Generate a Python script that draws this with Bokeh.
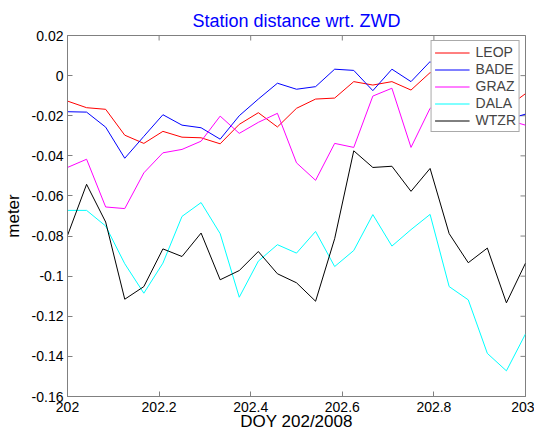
import math
from bokeh.plotting import figure
from bokeh.models import FixedTicker, Legend, LegendItem, Range1d
from bokeh.embed import file_html
from bokeh.resources import INLINE

# ---- data ----
hours = [0, 1, 2, 3, 4, 5, 6, 7, 8, 9, 10, 11, 12,
         13, 14, 15, 16, 17, 18, 19, 20, 21, 22, 23, 24]
doy = [202 + h / 24.0 for h in hours]

leop = [-0.0127, -0.0160, -0.0168, -0.0297, -0.0338, -0.0278, -0.0307, -0.0310,
        -0.0340, -0.0243, -0.0185, -0.0256, -0.0163, -0.0117, -0.0112, -0.0030,
        -0.0047, -0.0030, -0.0072, 0.0015, -0.0010, -0.0040, -0.0090, -0.0160,
        -0.0090]
bade = [-0.0180, -0.0182, -0.0257, -0.0412, -0.0303, -0.0195, -0.0247, -0.0260,
        -0.0317, -0.0200, -0.0117, -0.0038, -0.0068, -0.0055, 0.0032, 0.0026,
        -0.0075, 0.0032, -0.0030, 0.0070, -0.0030, -0.0080, -0.0140, -0.0220,
        -0.0192]
graz = [-0.0458, -0.0417, -0.0655, -0.0663, -0.0485, -0.0385, -0.0368, -0.0327,
        -0.0202, -0.0288, -0.0233, -0.0188, -0.0435, -0.0522, -0.0338, -0.0358,
        -0.0102, -0.0063, -0.0358, -0.0163, -0.0120, -0.0140, -0.0180, -0.0220,
        -0.0247]
dala = [-0.0672, -0.0672, -0.0750, -0.0938, -0.1085, -0.0935, -0.0702, -0.0633,
        -0.0788, -0.1105, -0.0925, -0.0843, -0.0885, -0.0777, -0.0952, -0.0872,
        -0.0693, -0.0850, -0.0768, -0.0692, -0.1052, -0.1118, -0.1385, -0.1472,
        -0.1288]
wtzr = [-0.0797, -0.0542, -0.0730, -0.1115, -0.1052, -0.0864, -0.0902, -0.0785,
        -0.1018, -0.0972, -0.0877, -0.0988, -0.1033, -0.1125, -0.0813, -0.0375,
        -0.0458, -0.0452, -0.0577, -0.0463, -0.0788, -0.0933, -0.0860, -0.1133,
        -0.0935]

series_names = ["LEOP", "BADE", "GRAZ", "DALA", "WTZR"]
series_values = [leop, bade, graz, dala, wtzr]
series_colors = ["#ff0000", "#0000ff", "#ff00ff", "#00ffff", "#000000"]

x_ticks = [202, 202.2, 202.4, 202.6, 202.8, 203]
x_tick_labels = ["202", "202.2", "202.4", "202.6", "202.8", "203"]
y_ticks = [-0.16, -0.14, -0.12, -0.1, -0.08, -0.06, -0.04, -0.02, 0, 0.02]
y_tick_labels = ["-0.16", "-0.14", "-0.12", "-0.1", "-0.08", "-0.06", "-0.04",
                 "-0.02", "0", "0.02"]

X_MIN, X_MAX = 202, 203
Y_MIN, Y_MAX = -0.16, 0.02

FONT = "Liberation Sans"
GREY = "#808080"

p = figure(width=534, height=433, output_backend="svg", toolbar_location=None,
           x_range=Range1d(X_MIN, X_MAX), y_range=Range1d(Y_MIN, Y_MAX),
           min_border_left=66, min_border_right=9, min_border_top=35,
           min_border_bottom=37, title="Station distance wrt. ZWD")
p.background_fill_color = "white"
p.border_fill_color = "white"
p.outline_line_color = GREY
p.xgrid.visible = False
p.ygrid.visible = False

p.title.align = "center"
p.title.text_color = "#0000ff"
p.title.text_font = FONT
p.title.text_font_size = "18px"
p.title.text_font_style = "normal"
p.title.standoff = 9


def style_axis(ax, ticks, labels):
    ax.ticker = FixedTicker(ticks=ticks)
    ax.major_label_overrides = {t: l for t, l in zip(ticks, labels)}
    ax.axis_line_color = GREY
    ax.major_tick_line_color = GREY
    ax.major_tick_in = 5
    ax.major_tick_out = 0
    ax.minor_tick_line_color = None
    ax.major_label_text_font = FONT
    ax.major_label_text_font_size = "14px"
    ax.major_label_text_color = "black"
    ax.axis_label_text_font = FONT
    ax.axis_label_text_font_size = "17px"
    ax.axis_label_text_font_style = "normal"
    ax.axis_label_text_color = "black"


style_axis(p.xaxis[0], x_ticks, x_tick_labels)
style_axis(p.yaxis[0], y_ticks, y_tick_labels)
p.xaxis[0].axis_label = "DOY 202/2008"
p.yaxis[0].axis_label = "meter"
p.xaxis[0].major_label_standoff = 5
p.xaxis[0].axis_label_standoff = -3
p.yaxis[0].major_label_standoff = 4
p.yaxis[0].axis_label_standoff = 6

# inward tick marks on the top and right edges of the box (clipped to the frame)
p.scatter(x_ticks, [Y_MAX] * len(x_ticks), marker="dash", size=10,
          angle=math.pi / 2, line_color=GREY, line_width=1)
p.scatter([X_MAX] * len(y_ticks), y_ticks, marker="dash", size=10,
          line_color=GREY, line_width=1)

items = []
for name, vals, col in zip(series_names, series_values, series_colors):
    r = p.line(doy, vals, line_color=col, line_width=1)
    items.append(LegendItem(label=name, renderers=[r]))

legend = Legend(items=items, location="top_right", margin=5, padding=3,
                spacing=1, glyph_width=35, glyph_height=15, label_height=15,
                label_standoff=6, label_text_font=FONT,
                label_text_font_size="14px", border_line_color="#555555",
                background_fill_color="white", background_fill_alpha=1)
p.add_layout(legend)

open("out.html", "w").write(file_html(p, INLINE))
